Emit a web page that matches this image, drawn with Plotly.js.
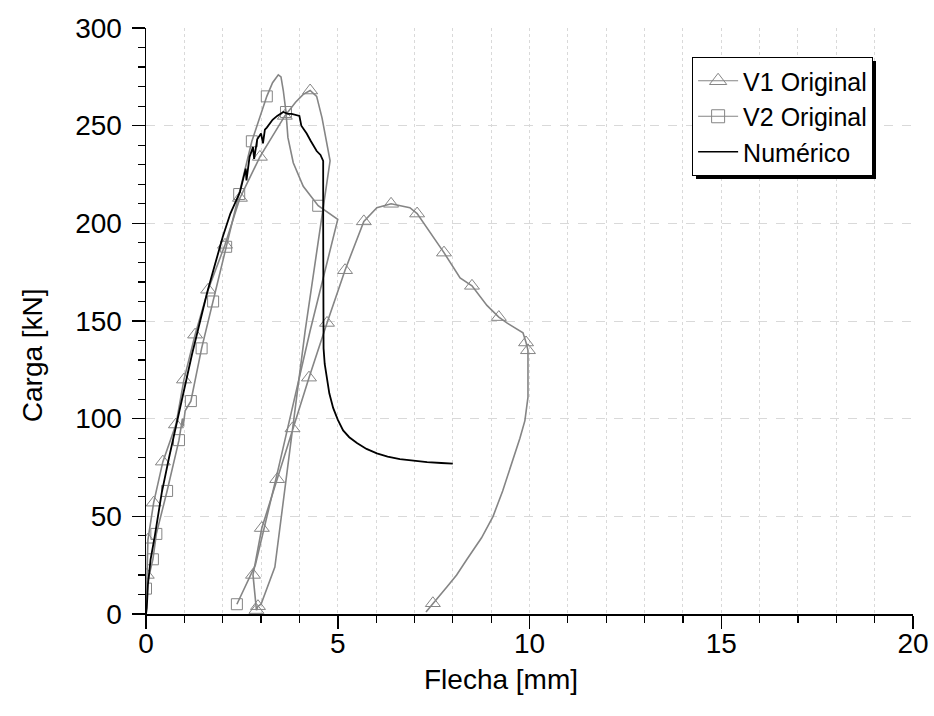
<!DOCTYPE html>
<html>
<head>
<meta charset="utf-8">
<script src="https://cdn.plot.ly/plotly-3.0.1.min.js"></script>
<style>html,body{margin:0;padding:0;background:#fff;}</style>
</head>
<body>
<div id="chart" style="width:934px;height:716px;"></div>
<script>
// V1 Original: full measured path (mm, kN)
const v1X = [0, 0.02, 0.05, 0.2, 0.44, 0.78, 0.99, 1.28, 1.62, 2.06, 2.45, 2.97, 3.62, 3.9, 4.1, 4.28, 4.45, 4.59, 4.7, 4.8,
  4.15, 3.67, 3.36, 3.0, 2.92, 2.88,
  2.79, 3.02, 3.42, 3.82, 4.25, 4.72, 5.19, 5.68, 6.02, 6.39, 6.88, 7.07, 7.49, 7.77, 8.19, 8.5, 8.89, 9.2, 9.41, 9.83, 9.91, 9.96,
  9.96, 9.88, 9.75, 9.6, 9.49, 9.3, 9.05, 8.75, 8.37, 8.1, 7.85, 7.48, 7.3];
const v1Y = [0, 20, 38, 57, 78, 97, 120, 143, 166, 189, 213, 234, 255, 262, 266, 268, 265, 254, 243, 232,
  145, 71, 24, 5, 4, 2,
  20, 44, 69, 95, 121, 149, 176, 201, 208, 210, 208, 205, 193, 185, 172, 168, 158, 152, 149, 144, 139, 135,
  111, 99, 90, 81, 74, 63, 50, 39, 28, 20, 14, 5.5, 1];
// V1 points carrying a triangle symbol
const v1MarkX = [0.02, 0.05, 0.2, 0.44, 0.78, 0.99, 1.28, 1.62, 2.06, 2.45, 2.97, 3.62, 4.28, 2.92, 2.88,
  2.79, 3.02, 3.42, 3.82, 4.25, 4.72, 5.19, 5.68, 6.39, 7.07, 7.77, 8.5, 9.2, 9.91, 9.96, 7.48];
const v1MarkY = [20, 38, 57, 78, 97, 120, 143, 166, 189, 213, 234, 255, 268, 4, 2,
  20, 44, 69, 95, 121, 149, 176, 201, 210, 205, 185, 168, 152, 139, 135, 5.5];

// V2 Original
const v2X = [0, 0.0, 0.18, 0.27, 0.55, 0.86, 0.95, 0.97, 1.02, 1.17, 1.45, 1.75, 2.09, 2.43, 2.76, 3.15, 3.3, 3.45, 3.52, 3.58, 3.65, 3.7, 3.84, 4.1, 4.49, 5.0,
  4.28, 3.41, 2.85, 2.37];
const v2Y = [0, 13, 28, 41, 63, 89, 100, 96, 104, 109, 136, 160, 188, 215, 242, 265, 272, 276, 275, 268, 257, 244, 231, 219, 209, 202,
  145, 71, 25, 5];
const v2MarkX = [0.0, 0.18, 0.27, 0.55, 0.86, 1.17, 1.45, 1.75, 2.09, 2.43, 2.76, 3.15, 3.65, 4.49, 2.37];
const v2MarkY = [13, 28, 41, 63, 89, 109, 136, 160, 188, 215, 242, 265, 257, 209, 5];

// Numérico
const numX = [0, 0.02, 0.05, 0.12, 0.23, 0.41, 0.6, 0.8, 1.0, 1.2, 1.4, 1.6, 1.8, 2.0, 2.2, 2.45, 2.6, 2.62, 2.7, 2.79, 2.82, 2.9, 3.0, 3.05, 3.1, 3.15, 3.3, 3.42, 3.58, 3.7, 3.8, 4.0, 4.05, 4.19, 4.3, 4.45, 4.55, 4.6, 4.62,
  4.62, 4.62, 4.63, 4.66, 4.71, 4.78, 4.88, 5.0, 5.14, 5.3, 5.5, 5.75, 6.02, 6.3, 6.62, 7.0, 7.33, 7.7, 8.0];
const numY = [0, 3, 15, 28, 40, 62, 80, 98, 116, 133, 149, 165, 179, 193, 205, 216, 228, 222, 234, 239, 233, 243, 246, 241, 248, 249, 253, 255, 257, 256, 256, 255, 250, 246, 242, 237, 235, 233, 232,
  200, 145, 136, 128, 121, 113, 105.5, 99.5, 94, 90.5, 87.5, 84.5, 82.2, 80.6, 79.3, 78.3, 77.8, 77.3, 77];

const gray = '#858585';
const FONT = 'Arial, "Liberation Sans", sans-serif';
const FS = 28;

const traces = [
  {x: v1X, y: v1Y, mode: 'lines', line: {color: gray, width: 1.6}, showlegend: false, hoverinfo: 'skip'},
  {x: v1MarkX, y: v1MarkY, mode: 'markers', marker: {symbol: 'triangle-up-open', size: 13, color: gray, line: {width: 1, color: gray}}, showlegend: false},
  {x: v2X, y: v2Y, mode: 'lines', line: {color: gray, width: 1.6}, showlegend: false, hoverinfo: 'skip'},
  {x: v2MarkX, y: v2MarkY, mode: 'markers', marker: {symbol: 'square-open', size: 11, color: gray, line: {width: 1, color: gray}}, showlegend: false},
  {x: numX, y: numY, mode: 'lines', line: {color: '#000', width: 1.8}, showlegend: false},
  // legend entries
  {x: [null], y: [null], mode: 'lines+markers', name: 'V1 Original', line: {color: gray, width: 1}, marker: {symbol: 'triangle-up-open', size: 15, color: gray, line: {width: 1}}},
  {x: [null], y: [null], mode: 'lines+markers', name: 'V2 Original', line: {color: gray, width: 1}, marker: {symbol: 'square-open', size: 13, color: gray, line: {width: 1}}},
  {x: [null], y: [null], mode: 'lines', name: 'Numérico', line: {color: '#000', width: 1.5}}
];

const layout = {
  width: 934, height: 716,
  margin: {l: 146, r: 21, t: 28, b: 102},
  paper_bgcolor: '#fff', plot_bgcolor: '#fff',
  font: {family: FONT, size: FS, color: '#000'},
  showlegend: true,
  legend: {
    x: 0.948, y: 0.9505, xanchor: 'right', yanchor: 'top',
    bgcolor: '#fff', bordercolor: '#000', borderwidth: 1,
    font: {family: FONT, size: 25, color: '#000'},
    itemwidth: 40, tracegroupgap: 0
  },
  xaxis: {
    range: [0, 20], dtick: 5, tick0: 0,
    showline: true, linecolor: '#000', linewidth: 1.5,
    ticks: 'outside', ticklen: 13, tickwidth: 1.5, tickcolor: '#000',
    showgrid: true, gridcolor: '#d9d9d9', griddash: 'dot', gridwidth: 1,
    zeroline: false,
    minor: {dtick: 1, ticks: 'outside', ticklen: 7, tickwidth: 1.2, tickcolor: '#000', showgrid: true, gridcolor: '#d9d9d9', griddash: 'dot', gridwidth: 1},
    tickfont: {family: FONT, size: FS},
    ticklabelstandoff: -9
  },
  yaxis: {
    range: [0, 300], dtick: 50, tick0: 0,
    showline: true, linecolor: '#000', linewidth: 1.5,
    ticks: 'outside', ticklen: 13, tickwidth: 1.5, tickcolor: '#000',
    showgrid: true, gridcolor: '#d9d9d9', griddash: 'dash', gridwidth: 1,
    zeroline: false,
    minor: {dtick: 10, ticks: 'outside', ticklen: 7, tickwidth: 1.2, tickcolor: '#000', showgrid: false},
    tickfont: {family: FONT, size: FS},
    ticklabelstandoff: 4
  },
  annotations: [
    {text: 'Flecha [mm]', xref: 'paper', yref: 'paper', x: 0.463, y: -0.112, xanchor: 'center', yanchor: 'middle', showarrow: false, font: {family: FONT, size: FS}},
    {text: 'Carga [kN]', xref: 'paper', yref: 'paper', x: -0.147, y: 0.442, xanchor: 'center', yanchor: 'middle', textangle: -90, showarrow: false, font: {family: FONT, size: FS}}
  ]
};

Plotly.newPlot('chart', traces, layout, {displayModeBar: false, staticPlot: true}).then(function () {
  const bg = document.querySelector('.legend rect.bg');
  if (bg) {
    const sh = bg.cloneNode();
    sh.setAttribute('class', 'legendshadow');
    sh.style.fill = '#000';
    sh.style.stroke = 'none';
    sh.setAttribute('transform', (bg.getAttribute('transform') || '') + ' translate(3,3)');
    bg.parentNode.insertBefore(sh, bg);
  }
});
</script>
</body>
</html>
